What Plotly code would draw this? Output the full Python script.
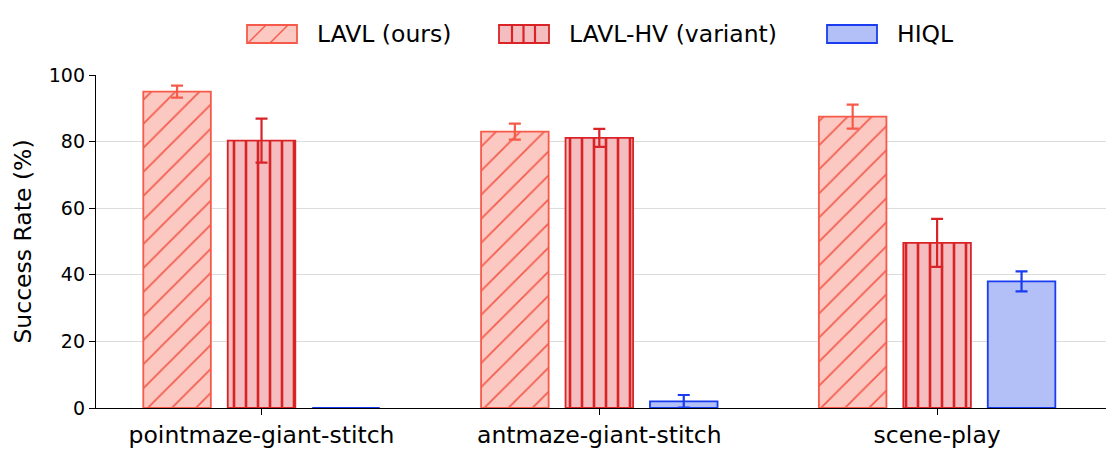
import plotly.graph_objects as go

tasks = ["pointmaze-giant-stitch", "antmaze-giant-stitch", "scene-play"]
methods = ["LAVL (ours)", "LAVL-HV (variant)", "HIQL"]

lavl_mean = [95.0, 83.0, 87.5]
lavl_err = [1.8, 2.4, 3.6]
lavl_hv_mean = [80.3, 81.1, 49.6]
lavl_hv_err = [6.6, 2.7, 7.2]
hiql_mean = [0.0, 2.0, 38.0]
hiql_err = [0.0, 1.9, 3.0]

means = [lavl_mean, lavl_hv_mean, hiql_mean]
errs = [lavl_err, lavl_hv_err, hiql_err]
fills = ["#fcc8c2", "#f4bec0", "#b3c0f8"]
edges = ["#f55a4a", "#d92327", "#1a3cf0"]
hatches = [("/", 17, 0.1), ("|", 12, 0.22), ("", 8, 0.3)]

W, H = 1116, 459
PAD = 8  # page body margin of the html
L, R, T, B = 88, 18, 67, 59
pw, ph = W - L - R, H - T - B


def px(x):
    # screen pixel -> paper x
    return (x - PAD - L) / pw


def py(y):
    # screen pixel -> paper y
    return (H - B - (y - PAD)) / ph


fig = go.Figure()
for name, m, e, fc, ec, (shape, size, sol) in zip(methods, means, errs, fills, edges, hatches):
    fig.add_trace(go.Bar(
        x=tasks, y=m, name=name, showlegend=False,
        marker=dict(color=fc, line=dict(color=ec, width=1.8),
                    pattern=dict(shape=shape, size=size, solidity=sol,
                                 fgcolor=ec, fgopacity=1, fillmode="overlay")),
        error_y=dict(type="data", array=e, color=ec, thickness=2.2, width=6),
    ))

# hand-built legend with wide hatched swatches
sw_left = [247, 499, 827]
sw_w, sw_top, sw_bot = 50, 25, 43
shapes, notes = [], []
for i, (name, fc, ec) in enumerate(zip(methods, fills, edges)):
    x0 = sw_left[i]
    shapes.append(dict(type="rect", xref="paper", yref="paper",
                       x0=px(x0), x1=px(x0 + sw_w), y0=py(sw_bot), y1=py(sw_top),
                       fillcolor=fc, line=dict(color=ec, width=1.8)))
    if i == 0:
        for off in (1, 23):
            shapes.append(dict(type="line", xref="paper", yref="paper",
                               x0=px(x0 + off), y0=py(sw_bot), x1=px(x0 + off + 18), y1=py(sw_top),
                               line=dict(color=ec, width=1.5)))
    elif i == 1:
        for off in (13, 24.5, 36):
            shapes.append(dict(type="line", xref="paper", yref="paper",
                               x0=px(x0 + off), y0=py(sw_bot), x1=px(x0 + off), y1=py(sw_top),
                               line=dict(color=ec, width=2.2)))
    notes.append(dict(text=name, xref="paper", yref="paper", showarrow=False,
                      x=px(x0 + sw_w + 18), y=py((sw_top + sw_bot) / 2),
                      xanchor="left", yanchor="middle",
                      font=dict(size=23.5, color="black")))

fig.update_layout(
    width=W, height=H,
    barmode="group", bargap=0.25, bargroupgap=0.2,
    plot_bgcolor="white", paper_bgcolor="white",
    font=dict(family="DejaVu Sans", size=19, color="black"),
    margin=dict(l=L, r=R, t=T, b=B, autoexpand=False),
    showlegend=False,
    shapes=shapes, annotations=notes,
)
fig.update_xaxes(range=[-0.49, 2.5], showline=True, linecolor="black", linewidth=1.3,
                 ticks="outside", ticklen=6, tickcolor="black", tickfont=dict(size=23.5))
fig.update_yaxes(range=[0, 100], dtick=20, showline=True, linecolor="black", linewidth=1.3,
                 ticks="outside", ticklen=6, tickcolor="black", tickfont=dict(size=19),
                 showgrid=True, gridcolor="#dcdcdc", gridwidth=1.2,
                 title=dict(text="Success Rate (%)", standoff=10, font=dict(size=23.5)),
                 zeroline=False)

fig.write_html("out.html")
